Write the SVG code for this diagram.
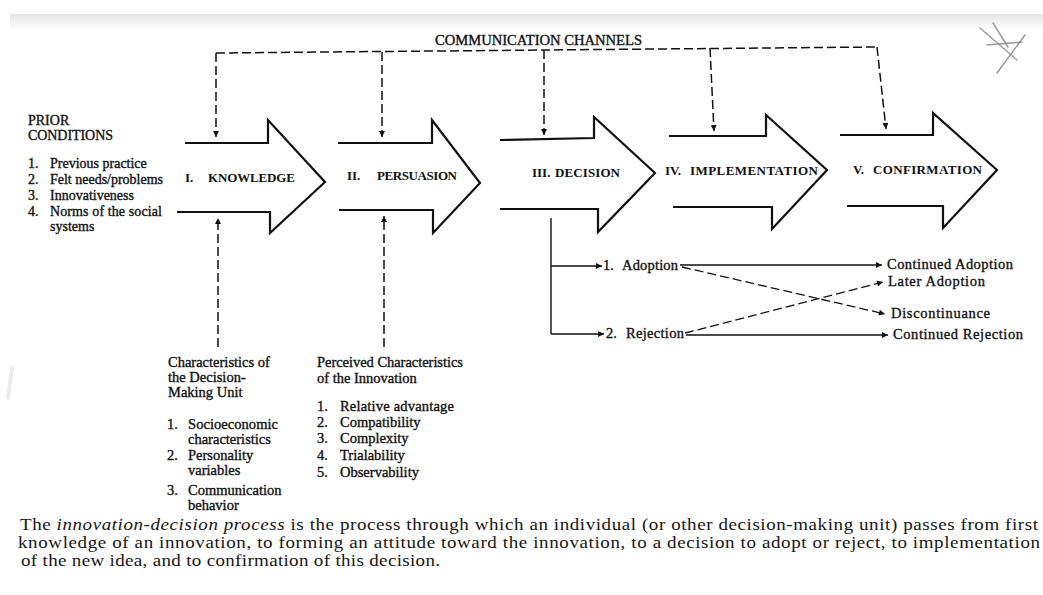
<svg xmlns="http://www.w3.org/2000/svg" width="1043" height="595" viewBox="0 0 1043 595">
<defs>
<style>
.t{font-family:"Liberation Serif","Times New Roman",serif;font-size:14.5px;fill:#111;stroke:#111;stroke-width:0.35;}
.h{font-family:"Liberation Serif","Times New Roman",serif;font-size:13px;font-weight:bold;fill:#111;}
.cp{font-family:"Liberation Serif","Times New Roman",serif;font-size:19px;fill:#161616;}
.big{fill:none;stroke:#111;stroke-width:2.2;stroke-linejoin:miter;}
.dash{fill:none;stroke:#111;stroke-width:1.5;stroke-dasharray:9,4;}
.sol{fill:none;stroke:#111;stroke-width:1.4;}
.scr{fill:none;stroke:#777;stroke-width:1.6;stroke-linecap:round;opacity:0.7;}
</style>
<marker id="ah" viewBox="0 0 10 10" refX="10" refY="5" markerWidth="9" markerHeight="6" markerUnits="userSpaceOnUse" orient="auto">
<path d="M0,0 L10,5 L0,10 Z" fill="#111"/>
</marker>
<linearGradient id="band" x1="0" y1="0" x2="0" y2="1">
<stop offset="0" stop-color="#e6e6e6"/>
<stop offset="1" stop-color="#ffffff"/>
</linearGradient>
</defs>
<rect x="0" y="0" width="1043" height="595" fill="#fff"/>
<rect x="10" y="14" width="1033" height="16" fill="url(#band)"/>

<!-- stray pen marks -->
<g id="scribble">
<path class="scr" d="M980,28 L1017,60"/>
<path class="scr" d="M993,23 L1008,47"/>
<path class="scr" d="M997,73 L1025,35"/>
<path class="scr" d="M987,45 L1022,42"/>
<path class="scr" d="M12,368 L8,398" style="opacity:0.15;stroke-width:4"/>
</g>

<g id="communication-channels">
<text class="t" x="435" y="45" style="font-size:14px" textLength="207" lengthAdjust="spacingAndGlyphs">COMMUNICATION CHANNELS</text>
</g>

<g id="prior-conditions">
<text class="t" x="28" y="125" style="font-size:14px">PRIOR</text>
<text class="t" x="28" y="140" style="font-size:14px" textLength="85">CONDITIONS</text>
<text class="t" x="28" y="168" style="font-size:14px">1.</text><text class="t" x="50" y="168" style="font-size:14px">Previous practice</text>
<text class="t" x="28" y="184" style="font-size:14px">2.</text><text class="t" x="50" y="184" style="font-size:14px" textLength="113">Felt needs/problems</text>
<text class="t" x="28" y="200" style="font-size:14px">3.</text><text class="t" x="50" y="200" style="font-size:14px">Innovativeness</text>
<text class="t" x="28" y="216" style="font-size:14px">4.</text><text class="t" x="50" y="216" style="font-size:14px" textLength="112">Norms of the social</text>
<text class="t" x="50" y="231" style="font-size:14px">systems</text>
</g>

<g id="knowledge">
<polyline class="big" points="185,143 268,143 268,120 325,182 270,233 270,212 177,212"/>
<text class="h" x="185" y="182">I.</text>
<text class="h" x="208" y="182" textLength="87">KNOWLEDGE</text>
</g>
<g id="persuasion">
<polyline class="big" points="338,143 432,143 432,120 480,183 433,233 433,210 339,210"/>
<text class="h" x="347" y="180">II.</text>
<text class="h" x="377" y="180" textLength="80">PERSUASION</text>
</g>
<g id="decision">
<polyline class="big" points="500,140 594,138 594,117 655,173 598,232 598,209 500,209"/>
<text class="h" x="532" y="177">III.</text>
<text class="h" x="555" y="177" textLength="65">DECISION</text>
</g>
<g id="implementation">
<polyline class="big" points="669,136 766,136 766,115 827,170 772,229 772,207 673,207"/>
<text class="h" x="665" y="175">IV.</text>
<text class="h" x="690" y="175" textLength="128">IMPLEMENTATION</text>
</g>
<g id="confirmation">
<polyline class="big" points="840,135 933,135 933,113 997,170 943,228 943,206 847,206"/>
<text class="h" x="853" y="174">V.</text>
<text class="h" x="873" y="174" textLength="109">CONFIRMATION</text>
</g>

<g id="decision-unit">
<text class="t" x="168" y="367">Characteristics of</text>
<text class="t" x="168" y="382">the Decision-</text>
<text class="t" x="168" y="397">Making Unit</text>
<text class="t" x="167" y="429">1.</text><text class="t" x="188" y="429" textLength="90">Socioeconomic</text>
<text class="t" x="188" y="444">characteristics</text>
<text class="t" x="167" y="460">2.</text><text class="t" x="188" y="460">Personality</text>
<text class="t" x="188" y="475">variables</text>
<text class="t" x="167" y="495">3.</text><text class="t" x="188" y="495">Communication</text>
<text class="t" x="188" y="510">behavior</text>
</g>

<g id="innovation-characteristics">
<text class="t" x="317" y="367" textLength="146">Perceived Characteristics</text>
<text class="t" x="317" y="383">of the Innovation</text>
<text class="t" x="317" y="411">1.</text><text class="t" x="340" y="411" textLength="114">Relative advantage</text>
<text class="t" x="317" y="427">2.</text><text class="t" x="340" y="427">Compatibility</text>
<text class="t" x="317" y="443">3.</text><text class="t" x="340" y="443">Complexity</text>
<text class="t" x="317" y="460">4.</text><text class="t" x="340" y="460">Trialability</text>
<text class="t" x="317" y="477">5.</text><text class="t" x="340" y="477">Observability</text>
</g>

<g id="outcomes">
<text class="t" x="603" y="270">1.</text><text class="t" x="622" y="270" textLength="56">Adoption</text>
<text class="t" x="606" y="338">2.</text><text class="t" x="626" y="338" textLength="58">Rejection</text>
<text class="t" x="887" y="269" textLength="126">Continued Adoption</text>
<text class="t" x="888" y="286" textLength="97">Later Adoption</text>
<text class="t" x="891" y="318" textLength="99">Discontinuance</text>
<text class="t" x="893" y="339" textLength="130">Continued Rejection</text>
</g>

<g id="connectors">
<path class="dash" d="M216,53 L877,47"/>
<path class="dash" d="M216,53 L216,137" marker-end="url(#ah)"/>
<path class="dash" d="M382,52 L382,137" marker-end="url(#ah)"/>
<path class="dash" d="M544,50 L544,135" marker-end="url(#ah)"/>
<path class="dash" d="M710,48 L714,131" marker-end="url(#ah)"/>
<path class="dash" d="M877,47 L886,129" marker-end="url(#ah)"/>
<path class="dash" d="M218,347 L218,218" marker-end="url(#ah)"/>
<path class="dash" d="M384,347 L384,216" marker-end="url(#ah)"/>
<path class="sol" d="M551,218 L551,334"/>
<path class="sol" d="M551,266 L602,266" marker-end="url(#ah)"/>
<path class="sol" d="M551,334 L604,334" marker-end="url(#ah)"/>
<path class="sol" d="M680,265 L882,265" marker-end="url(#ah)"/>
<path class="sol" d="M686,335 L888,335" marker-end="url(#ah)"/>
<path class="dash" style="stroke-width:1.3" d="M682,267 L885,314" marker-end="url(#ah)"/>
<path class="dash" style="stroke-width:1.3" d="M685,333 L883,282" marker-end="url(#ah)"/>
</g>

<g id="caption">
<text class="cp" transform="translate(20,530) scale(1,0.87)" x="0" y="0" textLength="1018" lengthAdjust="spacing">The <tspan font-style="italic">innovation-decision process</tspan> is the process through which an individual (or other decision-making unit) passes from first</text>
<text class="cp" transform="translate(18,548) scale(1,0.87)" x="0" y="0" textLength="1022" lengthAdjust="spacing">knowledge of an innovation, to forming an attitude toward the innovation, to a decision to adopt or reject, to implementation</text>
<text class="cp" transform="translate(21,566) scale(1,0.87)" x="0" y="0" textLength="419" lengthAdjust="spacing">of the new idea, and to confirmation of this decision.</text>
</g>
</svg>
